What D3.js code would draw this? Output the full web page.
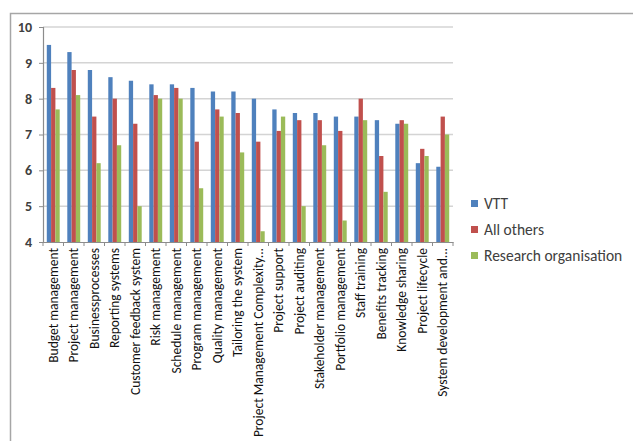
<!DOCTYPE html>
<html><head><meta charset="utf-8">
<script src="https://cdn.jsdelivr.net/npm/d3@7"></script>
<style>body{margin:0;background:#fff}svg{display:block}</style>
</head><body>
<script>
const categories = ["Budget management","Project management","Businessprocesses","Reporting systems","Customer feedback system","Risk management","Schedule management","Program management","Quality management","Tailoring the system","Project Management Complexity...","Project support","Project auditing","Stakeholder management","Portfolio management","Staff training","Benefits tracking","Knowledge sharing","Project lifecycle","System development and..."];
const seriesNames = ["VTT","All others","Research organisation"];
const vtt = [9.5,9.3,8.8,8.6,8.5,8.4,8.4,8.3,8.2,8.2,8.0,7.7,7.6,7.6,7.5,7.5,7.4,7.3,6.2,6.1];
const allOthers = [8.3,8.8,7.5,8.0,7.3,8.1,8.3,6.8,7.7,7.6,6.8,7.1,7.4,7.4,7.1,8.0,6.4,7.4,6.6,7.5];
const research = [7.7,8.1,6.2,6.7,5.0,8.0,8.0,5.5,7.5,6.5,4.3,7.5,5.0,6.7,4.6,7.4,5.4,7.3,6.4,7.0];
const yTicks = [4,5,6,7,8,9,10];
const colors = ["#4F81BD","#C0504D","#9BBB59"];

const W = 633, H = 441;
const svg = d3.select("body").append("svg").attr("width", W).attr("height", H);
const font = "Carlito, Lato, 'Open Sans', sans-serif";

svg.append("rect").attr("x",10.5).attr("y",13.5).attr("width",W).attr("height",H)
  .attr("fill","none").attr("stroke","#a6a6a6").attr("stroke-width",1.5);

const pLeft = 43, pRight = 453, pTop = 27, pBottom = 242;
const x = d3.scaleBand().domain(categories).range([pLeft, pRight]).paddingInner(0).paddingOuter(0);
const y = d3.scaleLinear().domain([4,10]).range([pBottom, pTop]);
const groupW = x.bandwidth() * 0.63;
const xs = d3.scaleBand().domain(seriesNames).range([0, groupW]);
const data = [vtt, allOthers, research];

svg.append("g").selectAll("line").data(yTicks.filter(t => t > 4)).join("line")
  .attr("x1", pLeft).attr("x2", pRight).attr("y1", d => y(d)).attr("y2", d => y(d))
  .attr("stroke", "#d4d4d4").attr("stroke-width", 1.5);

seriesNames.forEach((s, si) => {
  svg.append("g").selectAll("rect").data(categories).join("rect")
    .attr("x", (c) => x(c) + (x.bandwidth() - groupW) / 2 + xs(s))
    .attr("width", xs.bandwidth())
    .attr("y", (c, i) => y(data[si][i]))
    .attr("height", (c, i) => pBottom - y(data[si][i]))
    .attr("fill", colors[si]);
});

const yAxis = svg.append("g").attr("transform", `translate(${pLeft},0)`)
  .call(d3.axisLeft(y).tickValues(yTicks).tickSize(4).tickPadding(7).tickFormat(d3.format("d")));
yAxis.select(".domain").attr("stroke", "#8c8c8c").attr("stroke-width", 1.2);
yAxis.selectAll(".tick line").attr("stroke", "#8c8c8c");
yAxis.selectAll("text").attr("font-family", font).attr("font-size", 14).attr("font-weight", 600).attr("fill", "#404040");

const xAxis = svg.append("g").attr("transform", `translate(0,${pBottom})`)
  .call(d3.axisBottom(x).tickSize(0).tickFormat(""));
xAxis.select(".domain").attr("stroke", "#8c8c8c").attr("stroke-width", 1.2);
svg.append("g").selectAll("line").data(categories.concat(["__end"])).join("line")
  .attr("x1", (c, i) => i < categories.length ? x(c) : pRight)
  .attr("x2", (c, i) => i < categories.length ? x(c) : pRight)
  .attr("y1", pBottom).attr("y2", pBottom + 4).attr("stroke", "#8c8c8c");

svg.append("g").selectAll("text").data(categories).join("text")
  .attr("transform", c => `translate(${x(c) + x.bandwidth()/2 + 4.5},${pBottom + 6}) rotate(-90)`)
  .attr("text-anchor", "end")
  .attr("font-family", font).attr("font-size", 13.5).attr("font-weight", 500).attr("fill", "#111")
  .text(c => c);

const lg = svg.append("g");
seriesNames.forEach((s, i) => {
  const ly = 204 + i * 26;
  lg.append("rect").attr("x", 471).attr("y", ly - 4).attr("width", 7).attr("height", 7).attr("fill", colors[i]);
  lg.append("text").attr("x", 484).attr("y", ly).attr("dy", "0.35em")
    .attr("font-family", font).attr("font-size", 15.5).attr("font-weight", 500).attr("fill", "#404040").text(s);
});
</script>
</body></html>
